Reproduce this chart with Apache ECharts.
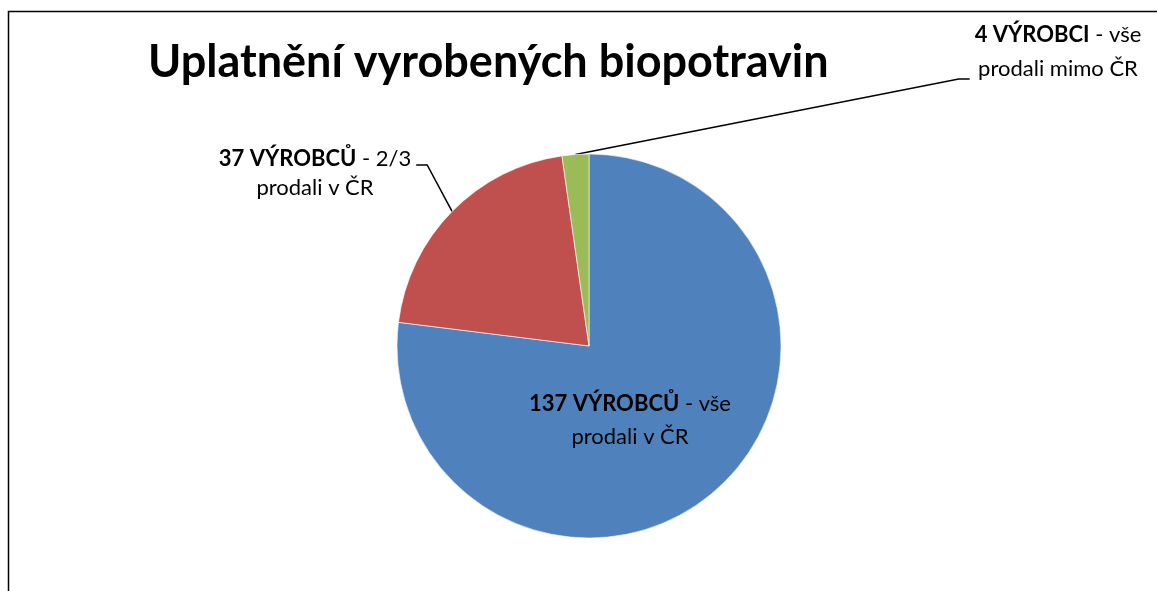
<!DOCTYPE html>
<html>
<head>
<meta charset="utf-8">
<script src="https://cdn.jsdelivr.net/npm/echarts@6/dist/echarts.min.js"></script>
<style>
  html, body { margin: 0; padding: 0; background: #fff; }
  #chart { width: 1157px; height: 591px; }
</style>
</head>
<body>
<div id="chart"></div>
<script>
// data
const values = [137, 37, 4];
const labelHeads = ['137 VÝROBCŮ', '37 VÝROBCŮ', '4 VÝROBCI'];
const labelTails = [' - vše\nprodali v ČR', ' - 2/3\nprodali v ČR', ' - vše\nprodali mimo ČR'];
const colors = ['#4F81BD', '#C0504D', '#9BBB59'];

// kam dat popisky (střed textu) a z které strany vede čára
const labelPlace = [
  {x: 630, y: 420, lh: 33, side: null},
  {x: 315, y: 173, lh: 29, side: 'right', dy: -8},
  {x: 1058, y: 52, lh: 34, side: 'left', dy: 27}
];

const chart = echarts.init(document.getElementById('chart'));

const seriesData = values.map(function (v, i) {
  const lh = labelPlace[i].lh;
  return {
    value: v,
    name: labelHeads[i],
    itemStyle: {color: colors[i]},
    label: {
      position: i === 0 ? 'inside' : 'outside',
      lineHeight: lh,
      formatter: '{b|' + labelHeads[i] + '}' + labelTails[i],
      rich: {
        b: {fontWeight: 'bold', fontFamily: 'Lato', fontSize: 22, lineHeight: lh, color: '#000'}
      }
    },
    labelLine: {show: i !== 0}
  };
});

const option = {
  animation: false,
  title: {
    text: 'Uplatnění vyrobených biopotravin',
    left: 143,
    top: 35,
    textStyle: {
      fontFamily: 'Lato',
      fontWeight: 'bold',
      fontSize: 45,
      color: '#000'
    }
  },
  graphic: [{
    type: 'rect',
    shape: {x: 8.5, y: 11.5, width: 1300, height: 700},
    style: {fill: 'none', stroke: '#000', lineWidth: 1.5},
    silent: true
  }],
  series: [{
    type: 'pie',
    center: [589, 346],
    radius: 192,
    startAngle: 90,
    clockwise: true,
    avoidLabelOverlap: false,
    itemStyle: {borderColor: 'rgba(255,255,255,0.6)', borderWidth: 1},
    label: {
      color: '#000',
      fontFamily: 'Lato',
      fontSize: 22,
      align: 'center'
    },
    labelLine: {
      lineStyle: {color: '#000', width: 1.5},
      length: 10,
      length2: 10
    },
    labelLayout: function (p) {
      const pl = labelPlace[p.dataIndex];
      const res = {x: pl.x, y: pl.y, align: 'center', verticalAlign: 'middle'};
      if (pl.side && p.labelLinePoints) {
        const w = p.labelRect.width;
        const start = p.labelLinePoints[0];
        const ly = pl.y + pl.dy;
        if (pl.side === 'right') {
          const ex = pl.x + w / 2 + 5;
          res.labelLinePoints = [start, [ex + 11, ly], [ex, ly]];
        } else {
          const ex = pl.x - w / 2 - 5;
          res.labelLinePoints = [start, [ex - 11, ly], [ex, ly]];
        }
      }
      return res;
    },
    data: seriesData
  }]
};

chart.setOption(option);
</script>
</body>
</html>
